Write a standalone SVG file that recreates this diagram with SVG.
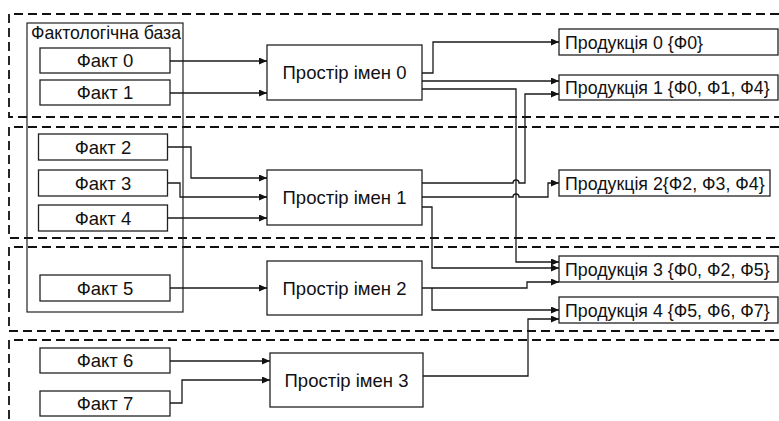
<svg xmlns="http://www.w3.org/2000/svg" width="779" height="421" viewBox="0 0 779 421">
  <style>
    .zone { fill: none; stroke: #111; stroke-width: 1.8; stroke-dasharray: 9 5; }
    .box { fill: #fff; stroke: #222; stroke-width: 1.3; }
    .grp { fill: none; stroke: #222; stroke-width: 1.2; }
    .lbl { font-family: "Liberation Sans", Arial, sans-serif; font-size: 18.5px; fill: #111; }
    .prod { font-size: 17.8px; }
    .mid { text-anchor: middle; }
    .wire { fill: none; stroke: #1a1a1a; stroke-width: 1.3; }
    .arr { marker-end: url(#tip); }
  </style>
  <defs>
    <marker id="tip" markerUnits="userSpaceOnUse" markerWidth="9" markerHeight="8" refX="8" refY="3.5" orient="auto">
      <path d="M0,0 L8,3.5 L0,7 Z" fill="#111"/>
    </marker>
  </defs>

  <rect width="779" height="421" fill="#fff"/>

  <!-- dashed zones -->
  <g id="zones">
    <path class="zone" d="M779,14 H9 V117 H779"/>
    <path class="zone" d="M779,127 H9 V238 H779"/>
    <path class="zone" d="M779,247 H9 V331 H779"/>
    <path class="zone" d="M779,340 H9 V421"/>
  </g>

  <!-- fact base frame -->
  <g id="factbase">
    <rect class="grp" x="27" y="23" width="156" height="289"/>
    <text class="lbl" x="31" y="39" font-size="16" textLength="150" lengthAdjust="spacingAndGlyphs">Фактологічна база</text>
  </g>

  <g id="fact0"><rect class="box" x="40" y="48" width="130" height="25"/><text class="lbl mid" x="105" y="67">Факт 0</text></g>
  <g id="fact1"><rect class="box" x="40" y="80" width="130" height="25"/><text class="lbl mid" x="105" y="99">Факт 1</text></g>
  <g id="fact2"><rect class="box" x="38.5" y="134" width="129" height="26"/><text class="lbl mid" x="103" y="153.5">Факт 2</text></g>
  <g id="fact3"><rect class="box" x="38.5" y="170" width="129" height="26"/><text class="lbl mid" x="103" y="189.5">Факт 3</text></g>
  <g id="fact4"><rect class="box" x="38.5" y="205" width="129" height="26"/><text class="lbl mid" x="103" y="224.5">Факт 4</text></g>
  <g id="fact5"><rect class="box" x="40" y="275" width="130" height="26"/><text class="lbl mid" x="105" y="294.5">Факт 5</text></g>
  <g id="fact6"><rect class="box" x="40" y="348" width="130" height="25"/><text class="lbl mid" x="105" y="367">Факт 6</text></g>
  <g id="fact7"><rect class="box" x="40" y="391" width="130" height="25"/><text class="lbl mid" x="105" y="410">Факт 7</text></g>

  <g id="ns0"><rect class="box" x="267" y="45" width="155" height="55"/><text class="lbl mid" x="344.5" y="79">Простір імен 0</text></g>
  <g id="ns1"><rect class="box" x="267" y="170" width="155" height="55"/><text class="lbl mid" x="344.5" y="204">Простір імен 1</text></g>
  <g id="ns2"><rect class="box" x="267" y="261" width="155" height="54"/><text class="lbl mid" x="344.5" y="294.5">Простір імен 2</text></g>
  <g id="ns3"><rect class="box" x="270" y="353" width="153" height="54"/><text class="lbl mid" x="346.5" y="386.5">Простір імен 3</text></g>

  <g id="prod0"><rect class="box" x="559" y="29" width="219" height="26"/><text class="lbl prod" x="565" y="48.5">Продукція 0 {Ф0}</text></g>
  <g id="prod1"><rect class="box" x="559" y="75" width="219" height="25"/><text class="lbl prod" x="565" y="94">Продукція 1 {Ф0, Ф1, Ф4}</text></g>
  <g id="prod2"><rect class="box" x="559" y="170" width="211" height="26"/><text class="lbl prod" x="565" y="189.5">Продукція 2{Ф2, Ф3, Ф4}</text></g>
  <g id="prod3"><rect class="box" x="559" y="256" width="219" height="26"/><text class="lbl prod" x="565" y="275.5">Продукція 3 {Ф0, Ф2, Ф5}</text></g>
  <g id="prod4"><rect class="box" x="559" y="297" width="219" height="26"/><text class="lbl prod" x="565" y="316.5">Продукція 4 {Ф5, Ф6, Ф7}</text></g>

  <!-- connectors -->
  <g id="connectors">
    <path class="wire arr" d="M170,61 H267"/>
    <path class="wire arr" d="M170,93 H267"/>
    <path class="wire arr" d="M167.5,147 H191 V178 H267"/>
    <path class="wire arr" d="M167.5,183 H180 V197 H267"/>
    <path class="wire arr" d="M167.5,218 H267"/>
    <path class="wire arr" d="M170,288 H267"/>
    <path class="wire arr" d="M170,361 H270"/>
    <path class="wire arr" d="M170,403 H182 V380 H270"/>

    <path class="wire arr" d="M422,73 H433 V42 H559"/>
    <path class="wire arr" d="M422,81 H559"/>
    <path class="wire arr" d="M422,89 H516 V262 H559"/>
    <path class="wire arr" d="M422,183 H513 a3,3 0 0 1 6,0 H525 V94 H559"/>
    <path class="wire arr" d="M422,197 H513 a3,3 0 0 1 6,0 H548 V183 H559"/>
    <path class="wire arr" d="M422,207 H432 V268 H559"/>
    <path class="wire arr" d="M422,288 H527 V282 H559"/>
    <path class="wire arr" d="M432,288 V310 H559"/>
    <path class="wire arr" d="M423,376 H528 V319 H559"/>
  </g>
</svg>
